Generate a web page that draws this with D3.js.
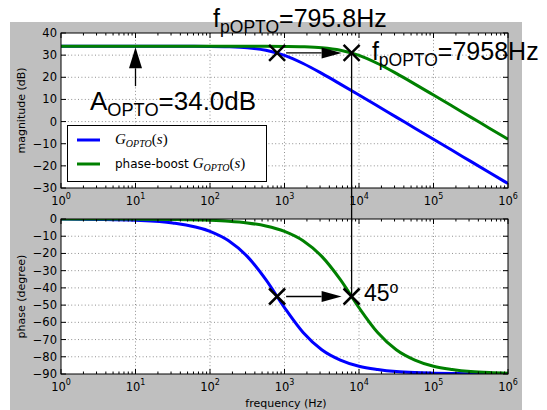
<!DOCTYPE html>
<html>
<head>
<meta charset="utf-8">
<script src="https://cdn.jsdelivr.net/npm/d3@7"></script>
<style>
  body { margin: 0; background: #fff; }
  svg { display: block; font-family: "DejaVu Sans", sans-serif; }
</style>
</head>
<body>
<script>
var freq = [1, 3.16, 10, 31.6, 100, 178, 316, 562, 1000, 1778, 3162, 5623,
            10000, 17783, 31623, 56234, 100000, 177828, 316228, 562341, 1000000];

// magnitude (dB)
var magOpto = [34.00, 34.00, 34.00, 33.99, 33.93, 33.79, 33.36, 32.24, 29.89, 26.22, 21.75, 16.93,
               11.99, 7.01, 2.01, -2.98, -7.98, -12.99, -17.98, -22.98, -28.00];
var magBoost = [34.00, 34.00, 34.00, 34.00, 34.00, 34.00, 33.99, 33.98, 33.93, 33.79, 33.36, 32.24,
                29.89, 26.22, 21.75, 16.93, 11.99, 7.01, 2.01, -2.98, -7.98];

// phase (degree)
var phaseOpto = [-0.07, -0.23, -0.72, -2.27, -7.16, -12.6, -21.7, -35.2, -51.5, -65.9, -75.9, -81.9,
                 -85.5, -87.4, -88.6, -89.2, -89.5, -89.7, -89.9, -89.9, -90.0];
var phaseBoost = [-0.01, -0.02, -0.07, -0.23, -0.72, -1.28, -2.27, -4.04, -7.16, -12.6, -21.7, -35.2,
                  -51.5, -65.9, -75.9, -81.9, -85.5, -87.4, -88.6, -89.2, -89.5];

var magTicks = [40, 30, 20, 10, 0, -10, -20, -30];
var phaseTicks = [0, -10, -20, -30, -40, -50, -60, -70, -80, -90];
var decades = [0, 1, 2, 3, 4, 5, 6];

// pole markers
var poles = [795.8, 7958];
var poleMag = 31.0;     // A_OPTO - 3 dB
var polePhase = -45;

var W = 547, H = 410;
var svg = d3.select('body').append('svg').attr('width', W).attr('height', H);

// figure background
svg.append('rect').attr('x', 10).attr('y', 22).attr('width', 512).attr('height', 388)
	.attr('fill', '#bfbfbf');

var x = d3.scaleLog().domain([1, 1e6]).range([61, 508]);
var yMag = d3.scaleLinear().domain([-30, 40]).range([188, 33]);
var yPh = d3.scaleLinear().domain([-90, 0]).range([374, 219]);

var minor = [];
for (var k = 0; k < 6; k++) for (var m = 2; m < 10; m++) minor.push(m * Math.pow(10, k));

var defs = svg.append('defs');
var SANS = '"Liberation Sans", Arial, sans-serif';
var SERIF = '"Liberation Serif", "Times New Roman", serif';

function drawAxes(id, y, yTicks, yLabel, series) {
	var top = y.range()[1], bot = y.range()[0];
	var left = x.range()[0], right = x.range()[1];
	var g = svg.append('g').attr('id', id);

	g.append('rect').attr('x', left).attr('y', top).attr('width', right - left)
		.attr('height', bot - top).attr('fill', '#fff');

	// dotted grid
	var grid = g.append('g').attr('stroke', '#000').attr('stroke-opacity', 0.55)
		.attr('stroke-width', 0.8).attr('stroke-dasharray', '1,2.4');
	grid.selectAll('.gx').data(decades.slice(1, -1)).enter().append('line')
		.attr('x1', function (d) { return x(Math.pow(10, d)); })
		.attr('x2', function (d) { return x(Math.pow(10, d)); })
		.attr('y1', top).attr('y2', bot);
	grid.selectAll('.gy').data(yTicks.slice(1, -1)).enter().append('line')
		.attr('y1', function (d) { return y(d); }).attr('y2', function (d) { return y(d); })
		.attr('x1', left).attr('x2', right);

	// curves
	defs.append('clipPath').attr('id', 'clip-' + id).append('rect')
		.attr('x', left).attr('y', top).attr('width', right - left).attr('height', bot - top);
	var line = d3.line().curve(d3.curveMonotoneX)
		.x(function (d, i) { return x(freq[i]); })
		.y(function (d) { return y(d); });
	g.append('g').attr('clip-path', 'url(#clip-' + id + ')')
		.selectAll('path').data(series).enter().append('path')
		.attr('d', function (s) { return line(s.values); })
		.attr('fill', 'none').attr('stroke', function (s) { return s.color; })
		.attr('stroke-width', 3).attr('stroke-linejoin', 'round');

	// ticks (inside, all four sides)
	var ticks = g.append('g').attr('stroke', '#000').attr('stroke-width', 1);
	decades.forEach(function (d) {
		var px = x(Math.pow(10, d));
		ticks.append('line').attr('x1', px).attr('x2', px).attr('y1', bot).attr('y2', bot - 5);
		ticks.append('line').attr('x1', px).attr('x2', px).attr('y1', top).attr('y2', top + 5);
	});
	minor.forEach(function (f) {
		var px = x(f);
		ticks.append('line').attr('x1', px).attr('x2', px).attr('y1', bot).attr('y2', bot - 2.5);
		ticks.append('line').attr('x1', px).attr('x2', px).attr('y1', top).attr('y2', top + 2.5);
	});
	yTicks.forEach(function (t) {
		var py = y(t);
		ticks.append('line').attr('x1', left).attr('x2', left + 5).attr('y1', py).attr('y2', py);
		ticks.append('line').attr('x1', right).attr('x2', right - 5).attr('y1', py).attr('y2', py);
	});

	// spines
	g.append('rect').attr('x', left).attr('y', top).attr('width', right - left)
		.attr('height', bot - top).attr('fill', 'none').attr('stroke', '#000').attr('stroke-width', 1);

	// tick labels
	g.selectAll('.yl').data(yTicks).enter().append('text')
		.attr('x', left - 4).attr('y', function (d) { return y(d) + 4; })
		.attr('text-anchor', 'end').attr('font-size', 11.5).attr('fill', '#000')
		.text(function (d) { return d < 0 ? '\u2212' + (-d) : d; });
	var xl = g.selectAll('.xl').data(decades).enter().append('text')
		.attr('x', function (d) { return x(Math.pow(10, d)); }).attr('y', bot + 17)
		.attr('text-anchor', 'middle').attr('font-size', 11.5).attr('fill', '#000');
	xl.append('tspan').text('10');
	xl.append('tspan').attr('font-size', 8).attr('dy', -6).text(function (d) { return d; });

	// y label
	g.append('text').attr('transform', 'translate(25,' + ((top + bot) / 2) + ') rotate(-90)')
		.attr('text-anchor', 'middle').attr('font-size', 11).text(yLabel);
	return g;
}

var gMag = drawAxes('mag', yMag, magTicks, 'magnitude (dB)', [
	{ values: magOpto, color: '#0000ff' },
	{ values: magBoost, color: '#008000' }
]);
var gPh = drawAxes('phase', yPh, phaseTicks, 'phase (degree)', [
	{ values: phaseOpto, color: '#0000ff' },
	{ values: phaseBoost, color: '#008000' }
]);

svg.append('text').attr('x', 286).attr('y', 407).attr('text-anchor', 'middle')
	.attr('font-size', 11).text('frequency (Hz)');

// legend
var leg = gMag.append('g');
leg.append('rect').attr('x', 67.5).attr('y', 125.5).attr('width', 199).attr('height', 56)
	.attr('fill', '#fff').attr('stroke', '#000').attr('stroke-width', 1);
var legItems = [{ color: '#0000ff', prefix: '', y: 140 }, { color: '#008000', prefix: 'phase-boost ', y: 164 }];
legItems.forEach(function (it) {
	leg.append('line').attr('x1', 77).attr('x2', 100).attr('y1', it.y).attr('y2', it.y)
		.attr('stroke', it.color).attr('stroke-width', 3);
	var t = leg.append('text').attr('x', 115).attr('y', it.y + 4).attr('font-size', 12);
	if (it.prefix) t.append('tspan').text(it.prefix);
	t.append('tspan').style('font-family', SERIF).style('font-style', 'italic')
		.attr('font-size', 15).text('G');
	t.append('tspan').style('font-family', SERIF).style('font-style', 'italic')
		.attr('font-size', 10).attr('dy', 3).text('OPTO');
	t.append('tspan').style('font-family', SERIF).attr('font-size', 15).attr('dy', -3).text('(');
	t.append('tspan').style('font-family', SERIF).style('font-style', 'italic')
		.attr('font-size', 15).text('s');
	t.append('tspan').style('font-family', SERIF).attr('font-size', 15).text(')');
});

// annotations
var ann = svg.append('g');

function arrow(x1, y1, x2, y2, headLen, headW) {
	var dx = x2 - x1, dy = y2 - y1, len = Math.sqrt(dx * dx + dy * dy);
	var ux = dx / len, uy = dy / len;
	var bx = x2 - ux * headLen, by = y2 - uy * headLen;
	ann.append('line').attr('x1', x1).attr('y1', y1).attr('x2', bx).attr('y2', by)
		.attr('stroke', '#000').attr('stroke-width', 1.3);
	ann.append('path')
		.attr('d', 'M' + x2 + ',' + y2 + 'L' + (bx - uy * headW / 2) + ',' + (by + ux * headW / 2) +
			'L' + (bx + uy * headW / 2) + ',' + (by - ux * headW / 2) + 'Z')
		.attr('fill', '#000');
}

function cross(cx, cy) {
	var s = 8;
	ann.append('path').attr('d', 'M' + (cx - s) + ',' + (cy - s) + 'L' + (cx + s) + ',' + (cy + s) +
		'M' + (cx - s) + ',' + (cy + s) + 'L' + (cx + s) + ',' + (cy - s))
		.attr('stroke', '#000').attr('stroke-width', 2.5).attr('fill', 'none');
}

// A_OPTO arrow pointing at the flat gain
arrow(x(10), yMag(16), x(10), yMag(34) + 1, 21, 13);
// pole shift arrows
arrow(x(poles[0]) + 9, yMag(poleMag), x(poles[1]) - 10, yMag(poleMag), 20, 11);
arrow(x(poles[0]) + 9, yPh(polePhase), x(poles[1]) - 10, yPh(polePhase), 20, 11);
// vertical line linking the two plots
ann.append('line').attr('x1', x(poles[1])).attr('x2', x(poles[1]))
	.attr('y1', yMag(poleMag)).attr('y2', yPh(polePhase))
	.attr('stroke', '#000').attr('stroke-width', 1.3);
poles.forEach(function (p) {
	cross(x(p), yMag(poleMag));
	cross(x(p), yPh(polePhase));
});

function subLabel(px, py, main, sub, rest, size) {
	var t = ann.append('text').attr('x', px).attr('y', py).attr('font-size', size)
		.style('font-family', SANS);
	t.append('tspan').text(main);
	t.append('tspan').attr('font-size', size * 0.7).attr('dy', size * 0.24).text(sub);
	t.append('tspan').attr('dy', -size * 0.24).text(rest);
}

subLabel(x(110), 27, 'f', 'pOPTO', '=795.8Hz', 25);
subLabel(x(14900), 60, 'f', 'pOPTO', '=7958Hz', 25);
subLabel(x(2.45), 110, 'A', 'OPTO', '=34.0dB', 26);

var t45 = ann.append('text').attr('x', x(11670)).attr('y', 301).attr('font-size', 23)
	.style('font-family', SANS);
t45.append('tspan').text('45');
t45.append('tspan').attr('font-size', 16).attr('dy', -8).text('o');
</script>
</body>
</html>
